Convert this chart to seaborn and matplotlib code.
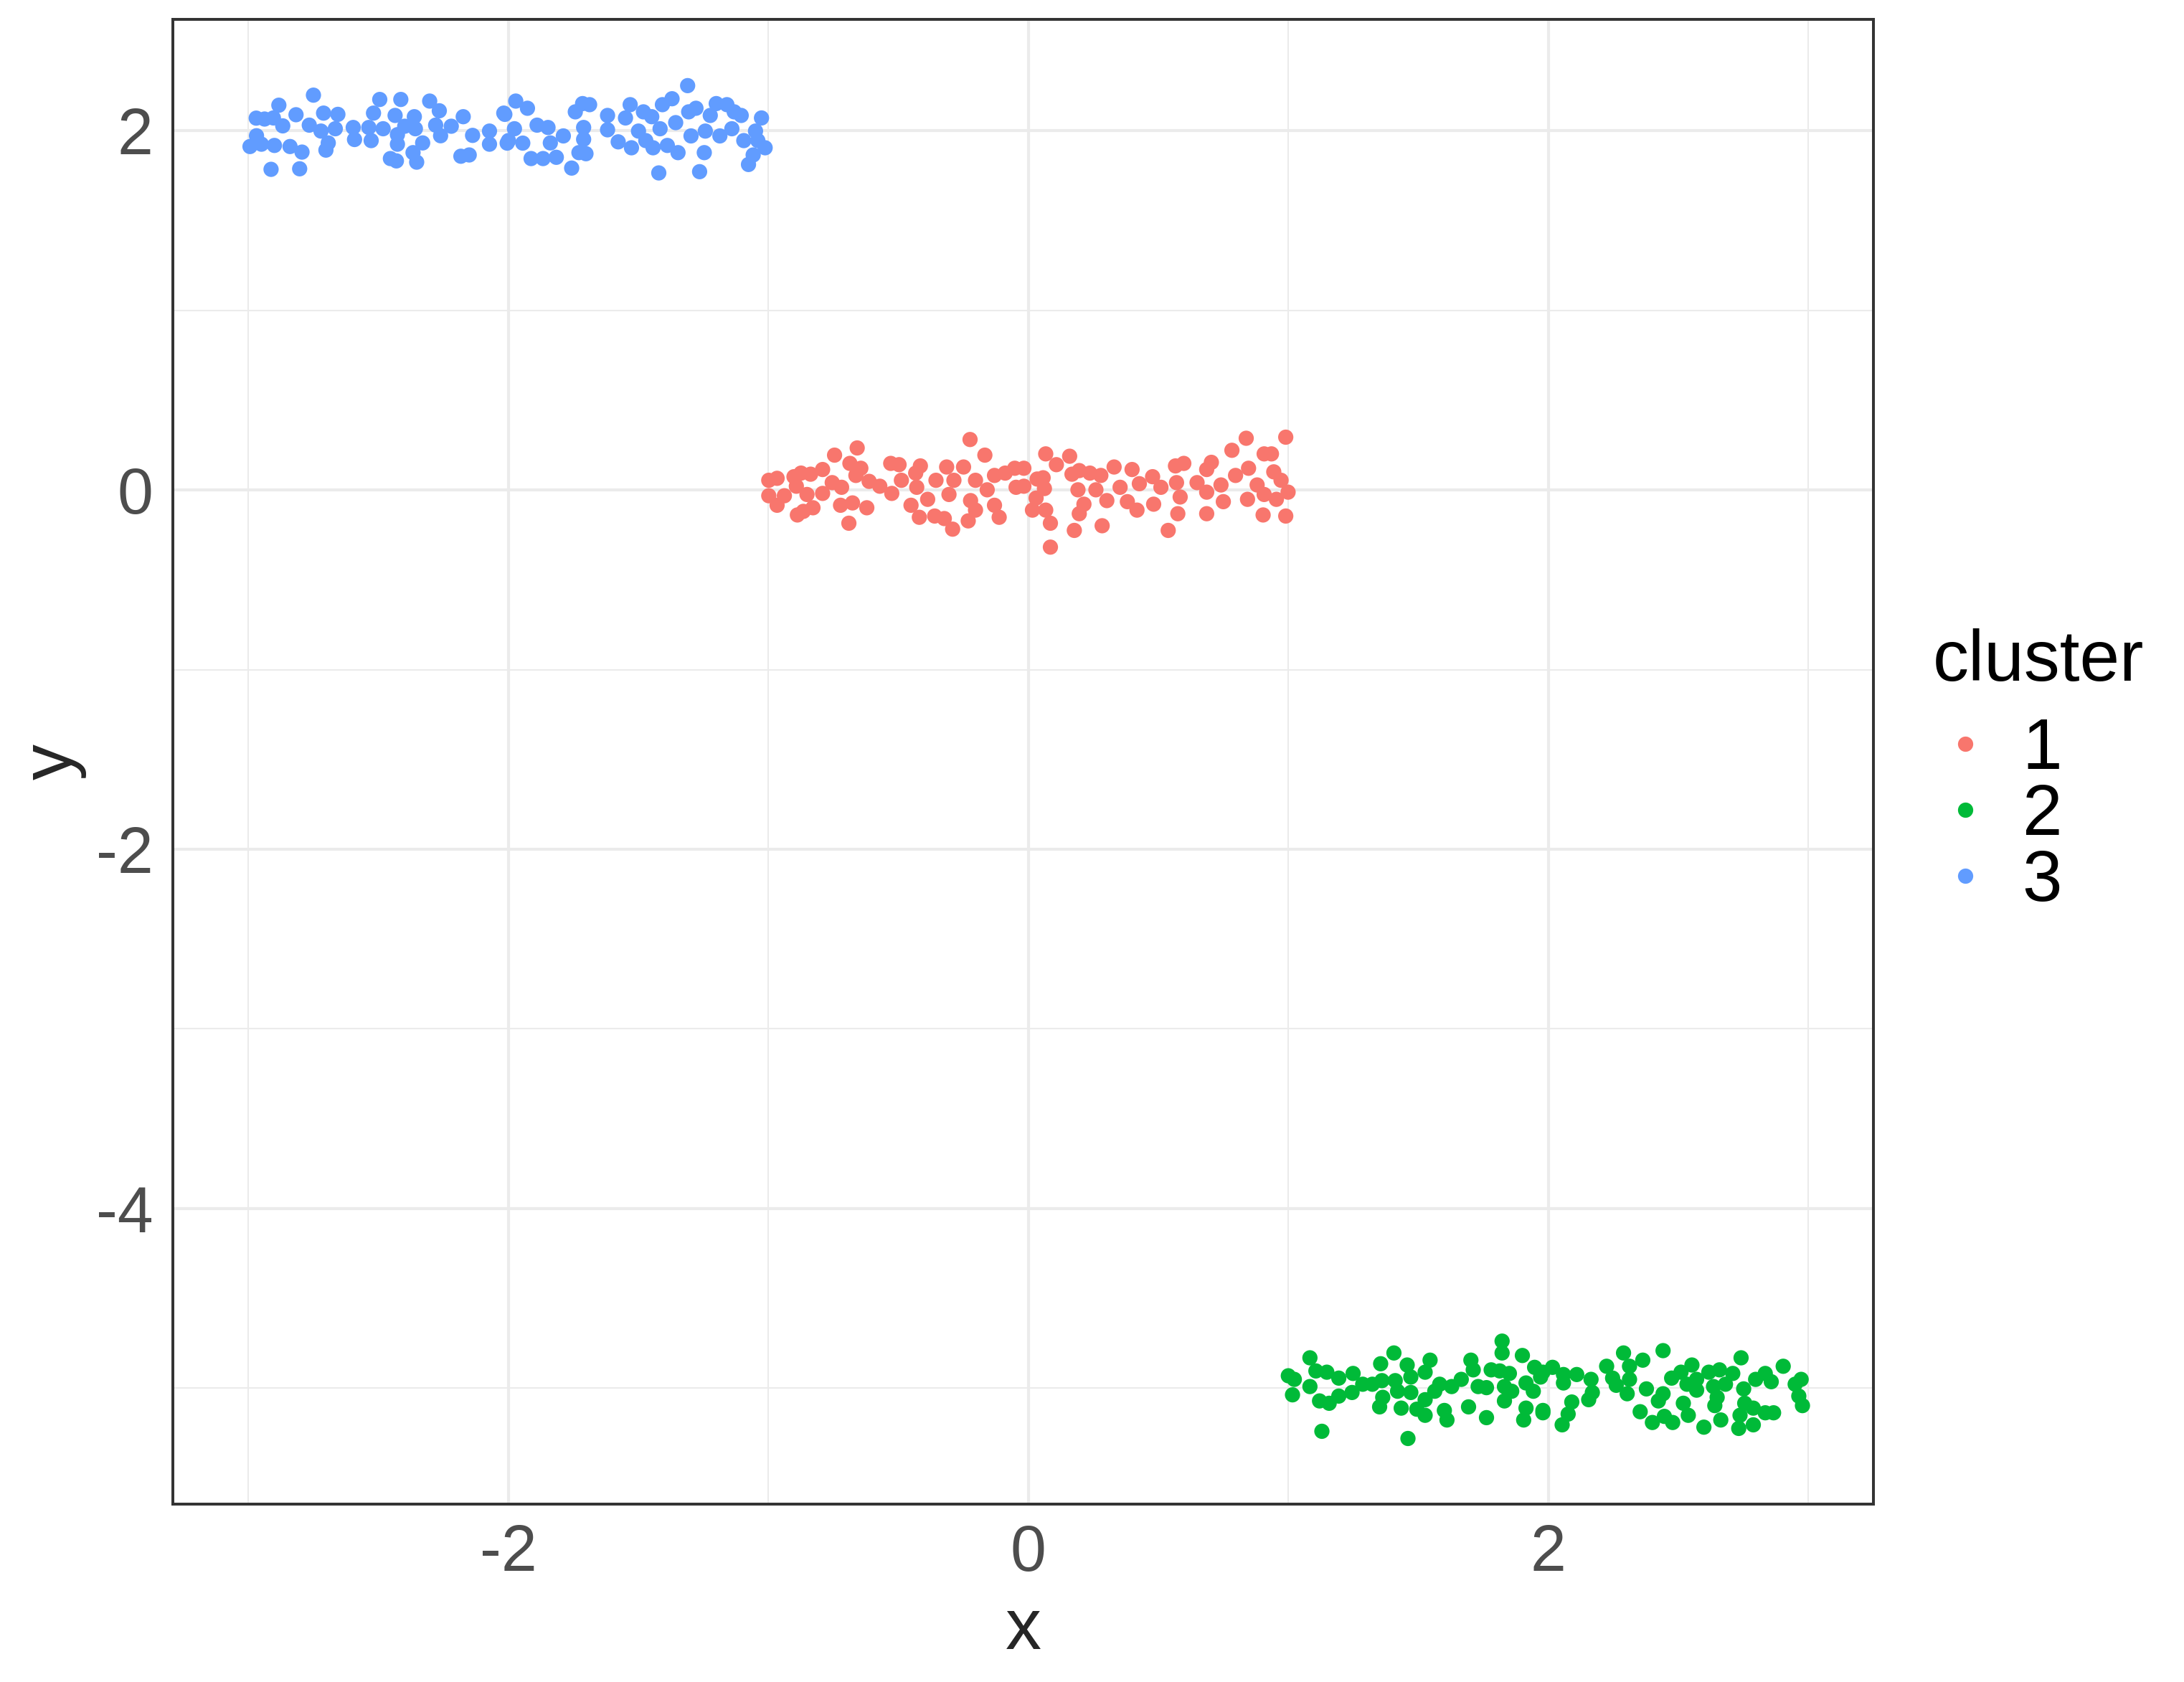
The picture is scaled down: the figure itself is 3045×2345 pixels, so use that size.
import numpy as np
import pandas as pd
import matplotlib
matplotlib.use("Agg")
import matplotlib.pyplot as plt
from matplotlib.ticker import MultipleLocator
import seaborn as sns

# points, one pair of lists per cluster
c1_x = [-0.998, -0.966, -0.998, -0.966, -0.938, -0.901, -0.874, -0.837, -0.791, -0.892,
        -0.851, -0.888, -0.865, -0.828, -0.745, -0.658, -0.686, -0.644, -0.791, -0.754,
        -0.718, -0.722, -0.676, -0.621, -0.690, -0.663, -0.612, -0.571, -0.529, -0.497,
        -0.525, -0.488, -0.451, -0.433, -0.415, -0.429, -0.419, -0.387, -0.355, -0.360,
        -0.314, -0.305, -0.323, -0.291, -0.286, -0.249, -0.224, -0.167, -0.203, -0.231,
        -0.203, -0.222, -0.130, -0.089, -0.052, -0.047, -0.130, -0.112, -0.158,
        -0.017, -0.017, 0.034, 0.057, 0.067, 0.108, 0.159, 0.062, 0.030, 0.016,
        0.067, 0.085, 0.085, 0.168, 0.196, 0.237, 0.191, 0.214, 0.196, 0.177,
        0.284, 0.279, 0.330, 0.260, 0.302, 0.353, 0.399, 0.381, 0.418, 0.427,
        0.478, 0.482, 0.510, 0.566, 0.598, 0.570, 0.584, 0.575, 0.538, 0.649,
        0.686, 0.704, 0.686, 0.686, 0.741, 0.750, 0.783, 0.797, 0.838, 0.847,
        0.843, 0.880, 0.907, 0.935, 0.944, 0.907, 0.903, 0.954, 0.972, 0.990,
        0.999, 0.990]
c1_y = [0.054, 0.065, -0.032, -0.085, -0.032, 0.074, 0.094, 0.088, 0.114, 0.021,
        -0.025, -0.139, -0.119, -0.099, 0.194, 0.234, 0.148, 0.121, -0.019, 0.041,
        0.015, -0.085, -0.072, -0.099, -0.185, 0.081, 0.048, 0.021, 0.148, 0.141,
        -0.019, 0.054, -0.085, 0.094, 0.134, 0.015, -0.152, -0.052, 0.054, -0.145,
        0.128, -0.025, -0.159, -0.218, 0.054, 0.128, 0.281, 0.194, 0.054, -0.172,
        -0.112, -0.059, 0.081, 0.094, 0.121, 0.015, -0.085, -0.152, 0.001,
        0.121, 0.021, 0.061, 0.068, 0.201, 0.141, 0.188, 0.008, -0.045, -0.112,
        -0.112, -0.185, -0.318, 0.088, 0.108, 0.094, 0.001, -0.079, -0.132, -0.225,
        -0.199, 0.081, 0.128, 0.001, -0.059, 0.015, 0.114, -0.065, -0.112, 0.035,
        0.074, -0.079, 0.015, 0.134, 0.148, 0.041, -0.039, -0.132, -0.225, 0.041,
        0.114, 0.154, -0.012, -0.132, 0.028, -0.065, 0.221, 0.081, 0.288, 0.121,
        -0.052, 0.028, 0.201, 0.201, 0.101, -0.025, -0.139, -0.052, 0.054, 0.294,
        -0.012, -0.145]

c2_x = [1.000, 1.023, 1.016, 1.083, 1.106, 1.083, 1.148, 1.120, 1.157, 1.129,
        1.194, 1.194, 1.249, 1.245, 1.286, 1.323, 1.355, 1.360, 1.363, 1.351,
        1.406, 1.411, 1.420, 1.434, 1.460, 1.457, 1.471, 1.471, 1.494, 1.526,
        1.545, 1.526, 1.526, 1.563, 1.582, 1.600, 1.610, 1.628, 1.665, 1.693,
        1.702, 1.711, 1.730, 1.762, 1.762, 1.780, 1.813, 1.822, 1.822, 1.850,
        1.831, 1.831, 1.859, 1.900, 1.905, 1.914, 1.947, 1.970, 1.979, 1.942,
        1.914,
        1.979, 1.979, 2.016, 2.058, 2.058, 2.109, 2.164, 2.169, 2.155, 2.090,
        2.076, 2.053, 2.224, 2.247, 2.261, 2.289, 2.312, 2.312, 2.363, 2.303,
        2.377, 2.353, 2.400, 2.441, 2.423, 2.441, 2.446, 2.478, 2.474, 2.510,
        2.519, 2.538, 2.552, 2.533, 2.570, 2.570, 2.598, 2.617, 2.635, 2.649,
        2.640, 2.658, 2.663, 2.681, 2.709, 2.741, 2.751, 2.755, 2.737, 2.732,
        2.788, 2.788, 2.797, 2.834, 2.857, 2.834, 2.866, 2.903, 2.949, 2.972,
        2.963, 2.977]
c2_y = [-4.931, -4.951, -5.037, -4.831, -4.904, -4.991, -4.911, -5.071, -5.084, -5.240,
        -4.944, -5.044, -4.918, -5.024, -4.978, -4.978, -4.864, -4.958, -5.051, -5.104,
        -4.804, -4.958, -5.017, -5.111, -5.280, -4.871, -4.938, -5.024, -5.117, -4.911,
        -4.844, -5.064, -5.151, -5.017, -4.978, -5.124, -5.177, -4.991, -4.951, -5.104,
        -4.844, -4.898, -4.991, -4.997, -5.164, -4.898, -4.904, -4.738, -4.804, -4.918,
        -4.991, -5.071, -5.017, -4.818, -5.177, -5.111, -4.884, -4.938, -5.124, -5.017,
        -4.971,
        -4.911, -5.137, -4.884, -4.924, -4.971, -4.924, -4.951, -5.024, -5.064, -5.077,
        -5.144, -5.204, -4.878, -4.944, -4.984, -4.804, -4.878, -4.951, -4.844, -5.031,
        -5.004, -5.131, -5.191, -4.791, -5.071, -5.031, -5.157, -5.191, -4.944, -4.911,
        -5.084, -5.151, -4.871, -4.978, -5.011, -4.951, -5.217, -4.911, -4.991, -5.051,
        -5.097, -4.898, -5.177, -4.978, -4.918, -4.831, -5.004, -5.084, -5.151, -5.224,
        -5.204, -5.111, -4.951, -4.918, -4.964, -5.137, -5.137, -4.878, -4.978, -4.951,
        -5.044, -5.097]

c3_x = [-2.749, -2.882, -2.969, -2.937, -2.903, -2.867, -2.816, -2.968, -2.993, -2.949,
        -2.899, -2.912, -2.839, -2.793, -2.802, -2.765, -2.710, -2.655, -2.720, -2.692,
        -2.701, -2.665, -2.596, -2.591, -2.527, -2.518, -2.494, -2.536, -2.481, -2.435,
        -2.413, -2.426, -2.426, -2.453, -2.430, -2.398, -2.361, -2.357, -2.366, -2.352,
        -2.329, -2.302, -2.265, -2.279, -2.260, -2.219, -2.173, -2.182, -2.150, -2.137,
        -2.072, -2.072, -2.017, -1.999,
        -2.013, -1.971, -1.926, -1.976, -2.004, -1.944, -1.889, -1.847, -1.788, -1.912,
        -1.866, -1.815, -1.838, -1.756, -1.742, -1.714, -1.687, -1.710, -1.710, -1.728,
        -1.701, -1.618, -1.618, -1.577, -1.549, -1.531, -1.526, -1.499, -1.480, -1.448,
        -1.471, -1.443, -1.421, -1.407, -1.370, -1.416, -1.388, -1.356, -1.347, -1.310,
        -1.306, -1.278, -1.297, -1.264, -1.246, -1.242, -1.223, -1.200, -1.159, -1.131,
        -1.104, -1.186, -1.140, -1.094, -1.026, -1.049, -1.040, -1.012, -1.058, -1.076]
c3_y = [2.198, 2.142, 2.070, 2.065, 2.071, 2.027, 2.089, 1.972, 1.912, 1.925,
        1.918, 1.785, 1.912, 1.881, 1.788, 2.031, 2.098, 2.091, 1.998, 1.932,
        1.892, 2.011, 2.018, 1.951, 1.945, 2.098, 2.174, 2.018, 2.011, 2.085,
        2.174, 1.978, 1.925, 1.845, 1.832, 2.025, 2.078, 2.011, 1.878, 1.825,
        1.932, 2.165, 2.111, 2.031, 1.972, 2.025, 2.078, 1.858, 1.865, 1.974,
        1.998, 1.925, 2.098, 1.945,
        2.091, 2.165, 2.125, 2.011, 1.931, 1.931, 2.031, 2.018, 1.971, 1.845,
        1.845, 1.852, 1.932, 1.792, 2.105, 2.151, 2.145, 2.018, 1.952, 1.878,
        1.872, 2.085, 2.005, 1.938, 2.071, 2.145, 1.905, 1.998, 2.105, 2.078,
        1.945, 1.905, 1.765, 2.145, 2.178, 2.011, 1.918, 2.045, 1.878, 2.251,
        2.105, 2.125, 1.971, 1.772, 1.878, 1.998, 2.085, 2.151, 2.145, 2.105,
        2.085, 1.971, 2.011, 1.945, 2.071, 1.998, 1.945, 1.905, 1.865, 1.812]

cluster_names = ["1", "2", "3"]
cluster_colors = ["#F8766D", "#00BA38", "#619CFF"]

df = pd.concat([
    pd.DataFrame({"x": c1_x, "y": c1_y, "cluster": "1"}),
    pd.DataFrame({"x": c2_x, "y": c2_y, "cluster": "2"}),
    pd.DataFrame({"x": c3_x, "y": c3_y, "cluster": "3"}),
], ignore_index=True)

sns.set_theme(style="white")
plt.rcParams["font.family"] = ["Liberation Sans", "DejaVu Sans"]
plt.rcParams["axes.unicode_minus"] = False

fig = plt.figure(figsize=(10.15, 7.8167), dpi=300)
ax = fig.add_axes([0.0791, 0.1058, 0.8578 - 0.0791, 0.9885 - 0.1058])

sns.scatterplot(data=df, x="x", y="y", hue="cluster",
                hue_order=cluster_names,
                palette=dict(zip(cluster_names, cluster_colors)),
                s=26, linewidth=0, ax=ax, zorder=3)

ax.set_xlim(-3.29, 3.25)
ax.set_ylim(-5.645, 2.62)
ax.xaxis.set_major_locator(MultipleLocator(2))
ax.yaxis.set_major_locator(MultipleLocator(2))
ax.xaxis.set_minor_locator(MultipleLocator(1))
ax.yaxis.set_minor_locator(MultipleLocator(1))
ax.grid(True, which="major", color="#EBEBEB", linewidth=1.0, zorder=0)
ax.grid(True, which="minor", color="#EBEBEB", linewidth=0.5, zorder=0)
ax.set_axisbelow(True)
ax.tick_params(axis="both", which="major", length=3.4, width=0.95,
               color="#333333", labelsize=21.5, labelcolor="#4D4D4D", pad=3.2)
ax.tick_params(axis="both", which="minor", length=0)
for sp in ax.spines.values():
    sp.set_color("#333333")
    sp.set_linewidth(0.95)

ax.set_xlabel("x", fontsize=24, labelpad=4)
ax.set_ylabel("y", fontsize=24, labelpad=3)

leg = ax.legend(title="cluster", loc="center left", bbox_to_anchor=(1.018, 0.493),
                frameon=False, fontsize=24, title_fontsize=24,
                markerscale=1.0, handlelength=0.9, handletextpad=0.35,
                labelspacing=-0.02, alignment="left", borderaxespad=0)
leg._legend_box.sep = 7  # a bit more room under the title, like ggplot
leg.get_title().set_color("black")
for t in leg.get_texts():
    t.set_color("black")

fig.savefig("out.png", dpi=300)
plt.close(fig)
